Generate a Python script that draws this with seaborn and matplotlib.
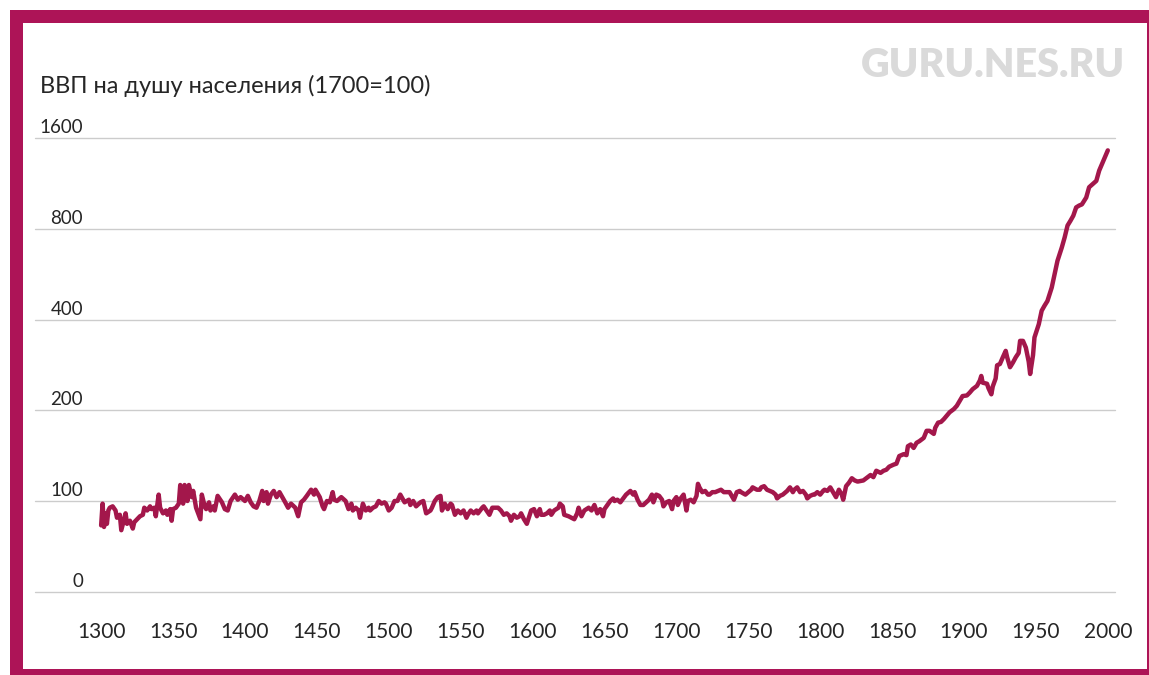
import matplotlib
matplotlib.use('Agg')
import matplotlib.pyplot as plt
import matplotlib.transforms as mtransforms
from matplotlib.patches import Rectangle
from matplotlib.ticker import NullLocator
import seaborn as sns

# GDP per capita, 1700 = 100
years = [1300, 1301, 1302, 1303, 1304, 1305, 1306, 1308, 1310, 1311, 1313, 1314, 1317, 1318, 1320,
         1322, 1323, 1325, 1327, 1329, 1330, 1332, 1334, 1335, 1337, 1338, 1340, 1341, 1343, 1345,
         1346, 1348, 1349, 1350, 1352, 1354, 1355, 1357, 1358, 1360, 1361, 1363, 1364, 1366, 1369,
         1370, 1372, 1373, 1375, 1376, 1378, 1379, 1381, 1384, 1386, 1388, 1390, 1393, 1395, 1397,
         1400, 1402, 1404, 1406, 1408, 1410, 1412, 1413, 1415, 1416, 1418, 1420, 1422, 1424, 1426,
         1428, 1430, 1432, 1435, 1437, 1439, 1441, 1443, 1446, 1448, 1449, 1452, 1454, 1455, 1457,
         1459, 1461, 1462, 1464, 1467, 1470, 1472, 1474, 1475, 1477, 1479, 1480, 1482, 1484, 1486,
         1487, 1489, 1491, 1493, 1495, 1497, 1498, 1500, 1502, 1504, 1506, 1508, 1510, 1511, 1514,
         1515, 1517, 1519, 1522, 1524, 1526, 1529, 1530, 1532, 1534, 1536, 1537, 1539, 1541, 1543,
         1544, 1546, 1548, 1550, 1552, 1554, 1555, 1557, 1559, 1561, 1562, 1565, 1566, 1568, 1570,
         1572, 1574, 1576, 1578, 1580, 1582, 1584, 1585, 1587, 1589, 1591, 1592, 1594, 1596, 1598,
         1599, 1601, 1603, 1605, 1606, 1608, 1610, 1612, 1613, 1615, 1618, 1619, 1621, 1622, 1625,
         1627, 1629, 1631, 1632, 1634, 1636, 1639, 1641, 1643, 1644, 1645, 1647, 1649, 1650, 1652,
         1654, 1656, 1657, 1659, 1661, 1663, 1665, 1667, 1668, 1670, 1671, 1673, 1675, 1677, 1679,
         1681, 1683, 1684, 1686, 1688, 1690, 1691, 1693, 1695, 1697, 1698, 1700, 1701, 1703, 1705,
         1707, 1708, 1710, 1712, 1714, 1715, 1716, 1718, 1720, 1722, 1723, 1725, 1727, 1729, 1731,
         1733, 1735, 1737, 1738, 1740, 1742, 1744, 1745, 1748, 1750, 1752, 1753, 1756, 1758, 1759,
         1761, 1763, 1765, 1767, 1769, 1770, 1772, 1774, 1776, 1777, 1779, 1781, 1782, 1784, 1786,
         1788, 1790, 1791, 1793, 1795, 1796, 1798, 1800, 1802, 1803, 1805, 1807, 1809, 1810, 1811,
         1813, 1815, 1816, 1818, 1820, 1822, 1824, 1826, 1830, 1832, 1835, 1837, 1839, 1842, 1844,
         1846, 1848, 1851, 1853, 1855, 1858, 1860, 1861, 1863, 1865, 1867, 1869, 1872, 1874, 1876,
         1879, 1880, 1882, 1884, 1886, 1888, 1890, 1893, 1895, 1897, 1899, 1902, 1904, 1906, 1909,
         1911, 1912, 1913, 1916, 1917, 1919, 1920, 1922, 1923, 1925, 1927, 1929, 1930, 1932, 1934,
         1936, 1938, 1939, 1941, 1943, 1945, 1946, 1948, 1949, 1952, 1954, 1956, 1958, 1961, 1963,
         1965, 1968, 1970, 1972, 1974, 1976, 1978, 1980, 1982, 1985, 1987, 1990, 1992, 1994, 1997,
         2000]
gdp = [83, 98, 82, 91, 84, 93, 95, 96, 93, 88, 90, 80, 91, 84, 86,
       81, 85, 87, 89, 90, 95, 93, 96, 94, 95, 89, 105, 95, 91, 93,
       90, 94, 86, 94, 95, 98, 113, 98, 113, 100, 113, 103, 108, 95, 87,
       105, 96, 94, 99, 93, 96, 93, 104, 99, 94, 93, 100, 105, 101, 103,
       100, 104, 99, 96, 95, 100, 108, 100, 107, 98, 105, 108, 103, 107, 103,
       99, 95, 98, 95, 89, 99, 101, 104, 109, 105, 109, 103, 96, 94, 100,
       99, 107, 101, 100, 103, 100, 94, 98, 93, 95, 93, 88, 98, 93, 95,
       93, 95, 96, 100, 98, 99, 98, 93, 95, 100, 100, 105, 101, 99, 101,
       97, 100, 96, 99, 100, 91, 93, 95, 100, 103, 104, 93, 98, 94, 98,
       97, 90, 93, 91, 93, 88, 90, 93, 91, 93, 91, 95, 96, 93, 90,
       95, 95, 95, 93, 90, 91, 89, 86, 90, 88, 89, 91, 87, 84, 90,
       93, 94, 89, 94, 90, 90, 91, 93, 90, 93, 95, 98, 96, 90, 89,
       88, 87, 91, 95, 89, 93, 95, 93, 97, 94, 91, 94, 89, 94, 97,
       100, 102, 100, 101, 99, 102, 105, 107, 108, 105, 107, 101, 97, 97, 99,
       101, 105, 99, 105, 104, 101, 96, 99, 100, 94, 100, 103, 97, 102, 105,
       93, 100, 101, 99, 104, 114, 111, 107, 108, 105, 105, 107, 107, 108, 109,
       107, 107, 107, 105, 101, 107, 108, 107, 105, 107, 109, 111, 109, 109, 111,
       112, 109, 108, 107, 105, 102, 104, 105, 107, 108, 111, 107, 109, 111, 107,
       108, 105, 102, 104, 105, 105, 107, 105, 108, 109, 108, 111, 107, 105, 103,
       109, 105, 101, 112, 115, 119, 117, 116, 117, 119, 122, 120, 126, 124, 126,
       127, 130, 132, 133, 141, 143, 142, 152, 154, 150, 156, 158, 162, 171, 171,
       167, 175, 182, 183, 187, 192, 197, 202, 207, 215, 223, 224, 229, 235, 241,
       251, 260, 247, 245, 237, 226, 240, 255, 282, 285, 300, 315, 300, 278, 288,
       300, 310, 340, 340, 323, 290, 264, 305, 349, 386, 428, 445, 461, 511, 566,
       627, 694, 750, 821, 851, 885, 943, 956, 965, 1017, 1100, 1133, 1155, 1249, 1349,
       1458]

y_ticks = [50, 100, 200, 400, 800, 1600]
y_labels = ['0', '100', '200', '400', '800', '1600']
x_ticks = list(range(1300, 2001, 50))

title = 'ВВП на душу населения (1700=100)'
LINE = '#A3174B'
FRAME = '#AD1457'

sns.set_style('white')
plt.rcParams['font.family'] = ['Lato', 'Open Sans', 'DejaVu Sans']

W, H = 1149, 675
fig = plt.figure(figsize=(W / 100, H / 100), dpi=100)
ax = fig.add_axes([35 / W, 83.3 / H, 1080 / W, 466.7 / H])

sns.lineplot(x=years, y=gdp, ax=ax, color=LINE, linewidth=3.2, zorder=3)

ax.set_yscale('log', base=2)
ax.set_ylim(50, 1770)
ax.set_xlim(1254, 2005)
ax.set_yticks(y_ticks)
ax.set_yticklabels([])
ax.yaxis.set_minor_locator(NullLocator())
ax.grid(axis='y', color='#cccccc', linewidth=1)
ax.grid(axis='x', visible=False)
for gl in ax.get_ygridlines():
    gl.set_clip_on(False)
ax.set_xticks(x_ticks)
ax.set_xticklabels([str(t) for t in x_ticks])
ax.tick_params(axis='x', length=0, pad=22, labelsize=15)
ax.tick_params(axis='y', length=0)
for s in ax.spines.values():
    s.set_visible(False)

# y labels sit above their gridlines
trans = mtransforms.offset_copy(ax.get_yaxis_transform(), fig=fig, x=0, y=5, units='dots')
for v, lab in zip(y_ticks, y_labels):
    ax.text(0.0445, v, lab, transform=trans, ha='right', va='baseline', fontsize=13.5)

fig.text(40 / W, 1 - 86 / H, title, fontsize=17, ha='left', va='center')
fig.text(1125 / W, 1 - 77 / H, 'GURU.NES.RU', fontsize=28.5, fontweight='heavy',
         color='#dadada', ha='right', va='baseline')

# magenta frame
for x0, y0, w, h in [(10, 652, W - 10, 13), (10, 0, 12.5, 665),
                     (10, 0, W - 10, 6), (1147, 0, 2, 665)]:
    fig.add_artist(Rectangle((x0 / W, y0 / H), w / W, h / H, transform=fig.transFigure,
                             facecolor=FRAME, edgecolor='none'))

fig.savefig('out.png', dpi=100)
